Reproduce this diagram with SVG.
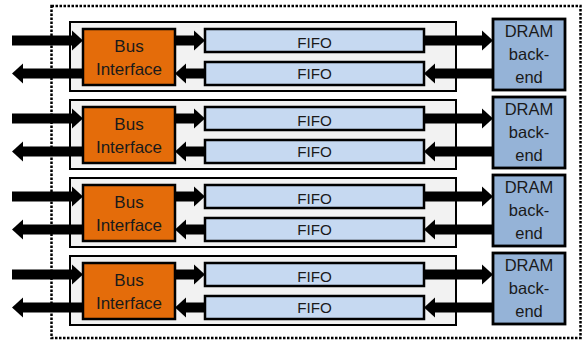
<svg xmlns="http://www.w3.org/2000/svg" width="584" height="341" viewBox="0 0 584 341">
<style>
.outer{fill:none;stroke:#000;stroke-width:2.5;stroke-dasharray:2.5 1.5}
.cont{fill:#F2F2F2;stroke:#000;stroke-width:2}
.bus{fill:#E46C0A;stroke:#000;stroke-width:2.5}
.fifo{fill:#C6D9F1;stroke:#000;stroke-width:2.5}
.dram{fill:#95B3D7;stroke:#000;stroke-width:2.8}
.t{font-family:"Liberation Sans",Arial,sans-serif;font-size:16px;fill:#1a1a1a;text-anchor:middle}
.bi{font-size:17px}
.ff{font-size:15.2px}
.dr{font-size:16.5px}
.c{fill:none;stroke:#000;stroke-width:10;marker-end:url(#ah)}
</style>
<defs>
<marker id="ah" markerUnits="userSpaceOnUse" viewBox="0 -10 11 20" refX="0" refY="0" markerWidth="11" markerHeight="20" orient="auto" overflow="visible">
<path d="M0,-10 L11,0 L0,10 z" fill="#000"/>
</marker>
</defs>
<rect class="outer" x="51.5" y="6" width="529" height="332"/>

<g id="row1">
<rect class="cont" x="70" y="22" width="386" height="69"/>
<g id="bus1"><rect class="bus" x="83" y="29" width="92" height="56"/><text class="t bi" x="129" y="52">Bus</text><text class="t bi" x="129" y="75">Interface</text></g>
<g id="fifo1a"><rect class="fifo" x="205" y="29" width="219" height="23"/><text class="t ff" x="314.5" y="47.5">FIFO</text></g>
<g id="fifo1b"><rect class="fifo" x="205" y="62" width="219" height="23"/><text class="t ff" x="314.5" y="78.5">FIFO</text></g>
</g>
<g id="dram1"><rect class="dram" x="493" y="19" width="72" height="71"/><text class="t dr" x="529" y="37">DRAM</text><text class="t dr" x="529" y="60">back-</text><text class="t dr" x="529" y="83">end</text></g>

<g id="row2">
<rect class="cont" x="70" y="100" width="386" height="69"/>
<g id="bus2"><rect class="bus" x="83" y="107" width="92" height="56"/><text class="t bi" x="129" y="130">Bus</text><text class="t bi" x="129" y="153">Interface</text></g>
<g id="fifo2a"><rect class="fifo" x="205" y="107" width="219" height="23"/><text class="t ff" x="314.5" y="125.5">FIFO</text></g>
<g id="fifo2b"><rect class="fifo" x="205" y="140" width="219" height="23"/><text class="t ff" x="314.5" y="156.5">FIFO</text></g>
</g>
<g id="dram2"><rect class="dram" x="493" y="97" width="72" height="71"/><text class="t dr" x="529" y="115">DRAM</text><text class="t dr" x="529" y="138">back-</text><text class="t dr" x="529" y="161">end</text></g>

<g id="row3">
<rect class="cont" x="70" y="178" width="386" height="69"/>
<g id="bus3"><rect class="bus" x="83" y="185" width="92" height="56"/><text class="t bi" x="129" y="208">Bus</text><text class="t bi" x="129" y="231">Interface</text></g>
<g id="fifo3a"><rect class="fifo" x="205" y="185" width="219" height="23"/><text class="t ff" x="314.5" y="203.5">FIFO</text></g>
<g id="fifo3b"><rect class="fifo" x="205" y="218" width="219" height="23"/><text class="t ff" x="314.5" y="234.5">FIFO</text></g>
</g>
<g id="dram3"><rect class="dram" x="493" y="175" width="72" height="71"/><text class="t dr" x="529" y="193">DRAM</text><text class="t dr" x="529" y="216">back-</text><text class="t dr" x="529" y="239">end</text></g>

<g id="row4">
<rect class="cont" x="70" y="256" width="386" height="69"/>
<g id="bus4"><rect class="bus" x="83" y="263" width="92" height="56"/><text class="t bi" x="129" y="286">Bus</text><text class="t bi" x="129" y="309">Interface</text></g>
<g id="fifo4a"><rect class="fifo" x="205" y="263" width="219" height="23"/><text class="t ff" x="314.5" y="281.5">FIFO</text></g>
<g id="fifo4b"><rect class="fifo" x="205" y="296" width="219" height="23"/><text class="t ff" x="314.5" y="312.5">FIFO</text></g>
</g>
<g id="dram4"><rect class="dram" x="493" y="253" width="72" height="71"/><text class="t dr" x="529" y="271">DRAM</text><text class="t dr" x="529" y="294">back-</text><text class="t dr" x="529" y="317">end</text></g>

<g id="connectors">
<path class="c" d="M12,40.5 H72"/><path class="c" d="M83,73.5 H23"/>
<path class="c" d="M175,40.5 H194"/><path class="c" d="M205,73.5 H186"/>
<path class="c" d="M424,40.5 H482"/><path class="c" d="M493,73.5 H435"/>

<path class="c" d="M12,118.5 H72"/><path class="c" d="M83,151.5 H23"/>
<path class="c" d="M175,118.5 H194"/><path class="c" d="M205,151.5 H186"/>
<path class="c" d="M424,118.5 H482"/><path class="c" d="M493,151.5 H435"/>

<path class="c" d="M12,196.5 H72"/><path class="c" d="M83,229.5 H23"/>
<path class="c" d="M175,196.5 H194"/><path class="c" d="M205,229.5 H186"/>
<path class="c" d="M424,196.5 H482"/><path class="c" d="M493,229.5 H435"/>

<path class="c" d="M12,274.5 H72"/><path class="c" d="M83,307.5 H23"/>
<path class="c" d="M175,274.5 H194"/><path class="c" d="M205,307.5 H186"/>
<path class="c" d="M424,274.5 H482"/><path class="c" d="M493,307.5 H435"/>
</g>
</svg>
